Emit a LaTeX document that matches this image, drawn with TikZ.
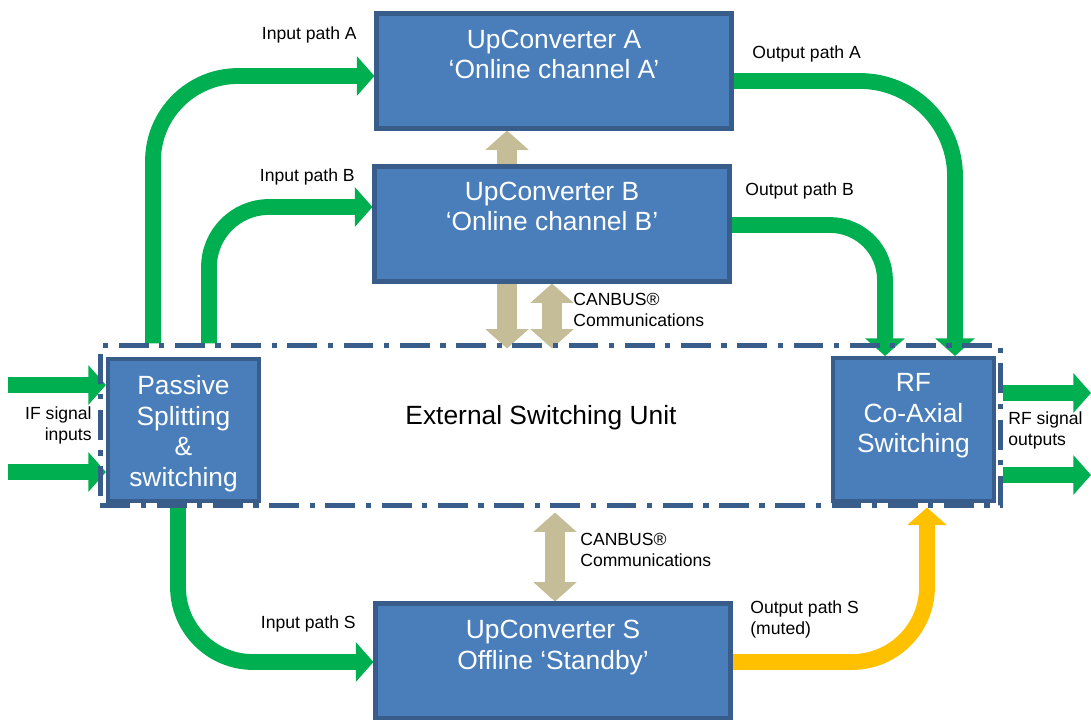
\documentclass[tikz,border=0pt]{standalone}
\usepackage{fontspec}
\setmainfont{Liberation Sans}
\usetikzlibrary{positioning, arrows.meta}
\usetikzlibrary{backgrounds}
\definecolor{unitblue}{HTML}{4A7EBB}
\definecolor{unitline}{HTML}{385D8A}
\definecolor{pathgreen}{HTML}{00B050}
\definecolor{mutedyellow}{HTML}{FFC000}
\definecolor{bustan}{HTML}{C4BD97}
\tikzset{
    unit/.style={draw=unitline,fill=unitblue,line width=2.3pt,inner sep=0pt},
    unittext/.style={text=white,font=\fontsize{15}{17.5}\selectfont,align=center,inner sep=0pt},
    tag/.style={font=\fontsize{10}{12}\selectfont,inner sep=0pt},
    esu/.style={draw=unitline,line width=2.3pt,dash pattern=on 17pt off 6pt on 3pt off 6pt},
  }

\begin{document}
\begin{tikzpicture}[x=0.2mm,y=-0.2mm,
    flow/.style={draw=pathgreen,line width=9pt,-{Triangle[width=22pt,length=10pt]}},
    muted/.style={flow,draw=mutedyellow},
    bus/.style={draw=bustan,line width=11.5pt,-{Triangle[width=24pt,length=11pt]}},
    bus2/.style={bus,{Triangle[width=24pt,length=11pt]}-{Triangle[width=24pt,length=11pt]}},
  ]
    \useasboundingbox (0,0) rectangle (1091,719);
    % the switching unit and the boxes
    \node[esu,minimum width=18cm,minimum height=3.2cm] (esu) at (550.5,425.5) {};
    \node[font=\fontsize{15}{17.5}\selectfont] (esulabel) at (541,418) {External Switching Unit};
    \node[unit,minimum width=7.1cm,minimum height=2.3cm] (ucA) at (554,71) {};
    \node[unit,minimum width=7.1cm,minimum height=2.3cm] (ucB) at (552,224) {};
    \node[unit,minimum width=7.1cm,minimum height=2.3cm] (ucS) at (553,661) {};
    \node[unit,minimum width=3.02cm,minimum height=2.84cm] (pss) at (183.5,430) {};
    \node[unit,minimum width=3.22cm,minimum height=2.86cm] (rf) at (913.5,429.5) {};
    \node[unittext,below=0.36cm of ucA.north] (ucAtext) {UpConverter A\\‘Online channel A’};
    \node[unittext,below=0.34cm of ucB.north] (ucBtext) {UpConverter B\\‘Online channel B’};
    \node[unittext,below=0.37cm of ucS.north] (ucStext) {UpConverter S\\Offline ‘Standby’};
    \node[unittext,below=0.36cm of pss.north] (psstext) {Passive\\Splitting\\\&\\switching};
    \node[unittext,below=0.34cm of rf.north] (rftext) {RF\\Co-Axial\\Switching};
    % labels
    \node[tag,anchor=east] (inAlabel) at (357,35) {Input path A};
    \node[tag,anchor=east] (inBlabel) at (355,177) {Input path B};
    \node[tag,anchor=east] (inSlabel) at (356,624) {Input path S};
    \node[tag,anchor=west] (outAlabel) at (752,54) {Output path A};
    \node[tag,anchor=west] (outBlabel) at (745,191) {Output path B};
    \node[tag,anchor=west,align=left] (outSlabel) at (750,619) {Output path S\\(muted)};
    \node[tag,anchor=west,align=left] (busBlabel) at (573,310) {CANBUS®\\Communications};
    \node[tag,anchor=west,align=left] (busSlabel) at (580,550) {CANBUS®\\Communications};
    \node[tag,anchor=east,align=right] (iflabel) at (92,425) {IF signal\\inputs};
    \node[tag,anchor=west,align=left] (rflabel) at (1008,430) {RF signal\\outputs};
    % free ends and columns of the paths
    \coordinate (inA) at (153,76);
    \coordinate (inB) at (209,207);
    \coordinate (inS) at (178,662);
    \coordinate (outA) at (955,81);
    \coordinate (outB) at (885,225);
    \coordinate (outS) at (927,662);
    \coordinate (ifA) at (8,385);
    \coordinate (ifB) at (8,472);
    \coordinate (rfA) at (1091,393);
    \coordinate (rfB) at (1091,475);
    \coordinate (busA) at (507,0);
    \coordinate (busB) at (552,0);
    \coordinate (busS) at (555,0);
    \begin{scope}[on background layer]
        % signal paths
        \draw[flow,rounded corners=1.7cm] (esu.north -| inA) |- (ucA.west |- inA);
        \draw[flow,rounded corners=1.2cm] (esu.north -| inB) |- (ucB.west |- inB);
        \draw[flow,rounded corners=1.5cm] (pss.south -| inS) |- (ucS.west |- inS);
        \draw[flow,rounded corners=1.9cm] (ucA.east |- outA) -| (rf.north -| outA);
        \draw[flow,rounded corners=1.1cm] (ucB.east |- outB) -| (rf.north -| outB);
        \draw[muted,rounded corners=1.5cm] (ucS.east |- outS) -| (esu.south -| outS);
        \draw[flow] (ifA) -- (pss.west |- ifA);
        \draw[flow] (ifB) -- (pss.west |- ifB);
        \draw[flow] (esu.east |- rfA) -- (rfA);
        \draw[flow] (esu.east |- rfB) -- (rfB);
        % CANBUS links
        \draw[bus] (ucB.north -| busA) -- (ucA.south -| busA);
        \draw[bus] (ucB.south -| busA) -- ([yshift=-1mm]esu.north -| busA);
        \draw[bus2] (ucB.south -| busB) -- ([yshift=-1mm]esu.north -| busB);
        \draw[bus2] ([yshift=-1mm]esu.south -| busS) -- (ucS.north -| busS);
    \end{scope}
\end{tikzpicture}
\end{document}
